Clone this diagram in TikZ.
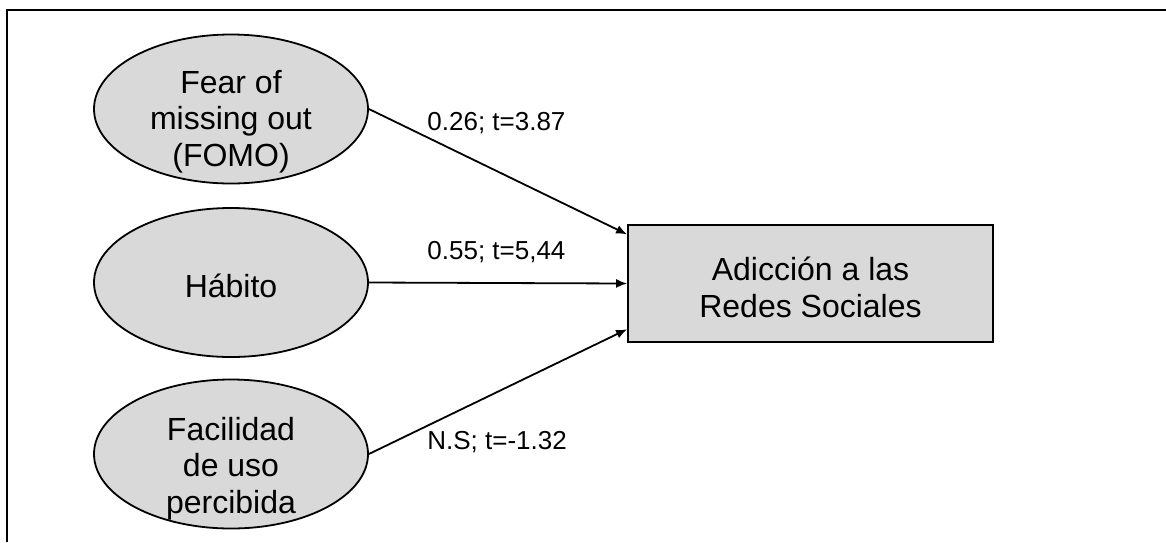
\documentclass[tikz,border=0pt]{standalone}
\usepackage{fontspec}
\setmainfont{Liberation Sans}
\usetikzlibrary{shapes.geometric,arrows.meta}
\definecolor{fillgray}{HTML}{D9D9D9}
\begin{document}
\begin{tikzpicture}[x=0.5pt,y=-0.5pt,
  latent/.style={ellipse,draw=black,line width=0.9pt,fill=fillgray,minimum width=137pt,minimum height=74.5pt,inner sep=0pt},
  construct/.style={rectangle,draw=black,line width=0.9pt,fill=fillgray,minimum width=182.5pt,minimum height=58.5pt,inner sep=0pt},
  nodetext/.style={align=center,inner sep=0pt,anchor=base,font=\fontsize{16}{18.25}\selectfont},
  coef/.style={inner sep=0pt,anchor=base west,font=\fontsize{13}{15}\selectfont},
  path/.style={line width=0.9pt,-{Latex[length=5.5pt,width=4.5pt]}}
]
\useasboundingbox (0,0) rectangle (1166,542);
\draw[line width=1.3pt] (7,542) -- (7,10) -- (1166,10);

\node[latent] (fomo) at (231,109) {};
\node[latent] (hab) at (231,282.5) {};
\node[latent] (fac) at (231,454) {};
\node[construct] (adic) at (810.5,283.5) {};

\node[nodetext] (fomotext) at (231,166) {Fear of\\missing out\\(FOMO)};
\node[nodetext] (habtext) at (231,297) {Hábito};
\node[nodetext] (factext) at (231,513) {Facilidad\\de uso\\percibida};
\node[nodetext] (adictext) at (810.5,317) {Adicción a las\\Redes Sociales};

\draw[path] (fomo.east) -- (adic.165);
\draw[path] (hab.east) -- (adic.west);
\draw[path] (fac.east) -- (adic.194);

\node[coef] (c1) at (427,130) {0.26; t=3.87};
\node[coef] (c2) at (427,259) {0.55; t=5,44};
\node[coef] (c3) at (427,449) {N.S; t=-1.32};
\end{tikzpicture}
\end{document}
